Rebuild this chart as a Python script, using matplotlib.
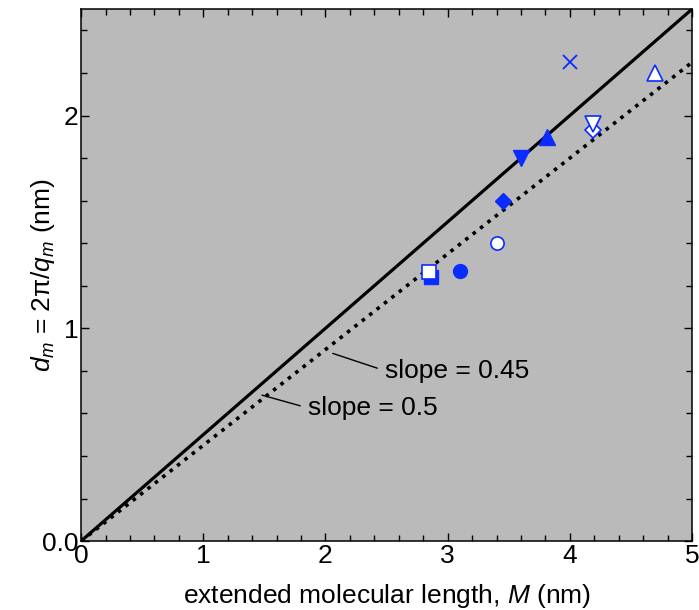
import matplotlib
matplotlib.use("Agg")
import matplotlib.pyplot as plt
from matplotlib.ticker import MultipleLocator, FuncFormatter

plt.rcParams['font.family'] = ['Liberation Sans', 'DejaVu Sans']
plt.rcParams['mathtext.fontset'] = 'custom'
plt.rcParams['mathtext.rm'] = 'Liberation Sans'
plt.rcParams['mathtext.it'] = 'Liberation Sans:italic'

# data points (M in nm, d_m in nm)
filled_sq_x, filled_sq_y = [2.86], [1.24]
open_sq_x, open_sq_y = [2.85], [1.265]
filled_circ_x, filled_circ_y = [3.10], [1.27]
open_circ_x, open_circ_y = [3.40], [1.40]
filled_diam_x, filled_diam_y = [3.45], [1.60]
filled_dtri_x, filled_dtri_y = [3.60], [1.80]
filled_utri_x, filled_utri_y = [3.81], [1.90]
open_diam_x, open_diam_y = [4.19], [1.93]
open_dtri_x, open_dtri_y = [4.19], [1.96]
open_utri_x, open_utri_y = [4.70], [2.20]
cross_x, cross_y = [4.00], [2.25]

line_x = [0, 5]
slope_solid = 0.5
slope_dotted = 0.45

blue = '#0a2cff'
bg = '#bababa'
fs = 19

fig = plt.figure(figsize=(6.99, 6.10), dpi=100)
ax = fig.add_axes([0.116, 0.113, 0.874, 0.872])
ax.set_facecolor(bg)

ax.plot(line_x, [slope_solid * x for x in line_x], color='black', lw=2.3, solid_capstyle='butt')
ax.plot(line_x, [slope_dotted * x for x in line_x], color='black', lw=2.6, linestyle=(0, (1, 1.6)))

ms = 9.5
ax.plot(filled_sq_x, filled_sq_y, 's', color=blue, ms=ms, mec=blue)
ax.plot(open_sq_x, open_sq_y, 's', mfc='white', mec=blue, mew=1.2, ms=ms)
ax.plot(filled_circ_x, filled_circ_y, 'o', color=blue, ms=ms + 0.5)
ax.plot(open_circ_x, open_circ_y, 'o', mfc='white', mec=blue, mew=1.2, ms=ms)
ax.plot(filled_diam_x, filled_diam_y, 'D', color=blue, ms=ms - 1.5)
ax.plot(filled_dtri_x, filled_dtri_y, 'v', color=blue, ms=ms + 2)
ax.plot(filled_utri_x, filled_utri_y, '^', color=blue, ms=ms + 2)
ax.plot(open_diam_x, open_diam_y, 'D', mfc='white', mec=blue, mew=1.2, ms=ms - 1.5)
ax.plot(open_dtri_x, open_dtri_y, 'v', mfc='white', mec=blue, mew=1.2, ms=ms + 1.5)
ax.plot(open_utri_x, open_utri_y, '^', mfc='white', mec=blue, mew=1.2, ms=ms + 1.5)
ax.plot(cross_x, cross_y, 'x', color=blue, ms=ms + 1, mew=1.3)

ax.annotate('slope = 0.45', xy=(2.06, 0.882), xytext=(2.49, 0.80),
            fontsize=fs, ha='left', va='center',
            arrowprops=dict(arrowstyle='-', color='black', lw=1, relpos=(0, 0.5),
                            shrinkA=4, shrinkB=0))
ax.annotate('slope = 0.5', xy=(1.48, 0.686), xytext=(1.86, 0.625),
            fontsize=fs, ha='left', va='center',
            arrowprops=dict(arrowstyle='-', color='black', lw=1, relpos=(0, 0.5),
                            shrinkA=4, shrinkB=0))

ax.set_xlim(0, 5)
ax.set_ylim(0, 2.5)
ax.xaxis.set_major_locator(MultipleLocator(1))
ax.xaxis.set_minor_locator(MultipleLocator(0.2))
ax.yaxis.set_major_locator(MultipleLocator(1))
ax.yaxis.set_minor_locator(MultipleLocator(0.2))
ax.yaxis.set_major_formatter(FuncFormatter(lambda v, p: '0.0' if v == 0 else '%d' % v))
ax.tick_params(which='both', direction='in', top=True, right=True, labelsize=fs, width=1)
ax.tick_params(which='major', length=6, pad=2)
ax.tick_params(which='minor', length=4)
for s in ax.spines.values():
    s.set_linewidth(1.1)

ax.set_xlabel('extended molecular length, $M$ (nm)', fontsize=fs, labelpad=10)
ax.set_ylabel('$d_m$ = 2π/$q_m$ (nm)', fontsize=fs)
ax.yaxis.set_label_coords(-0.04, 0.5)

fig.savefig('out.png', dpi=100)
